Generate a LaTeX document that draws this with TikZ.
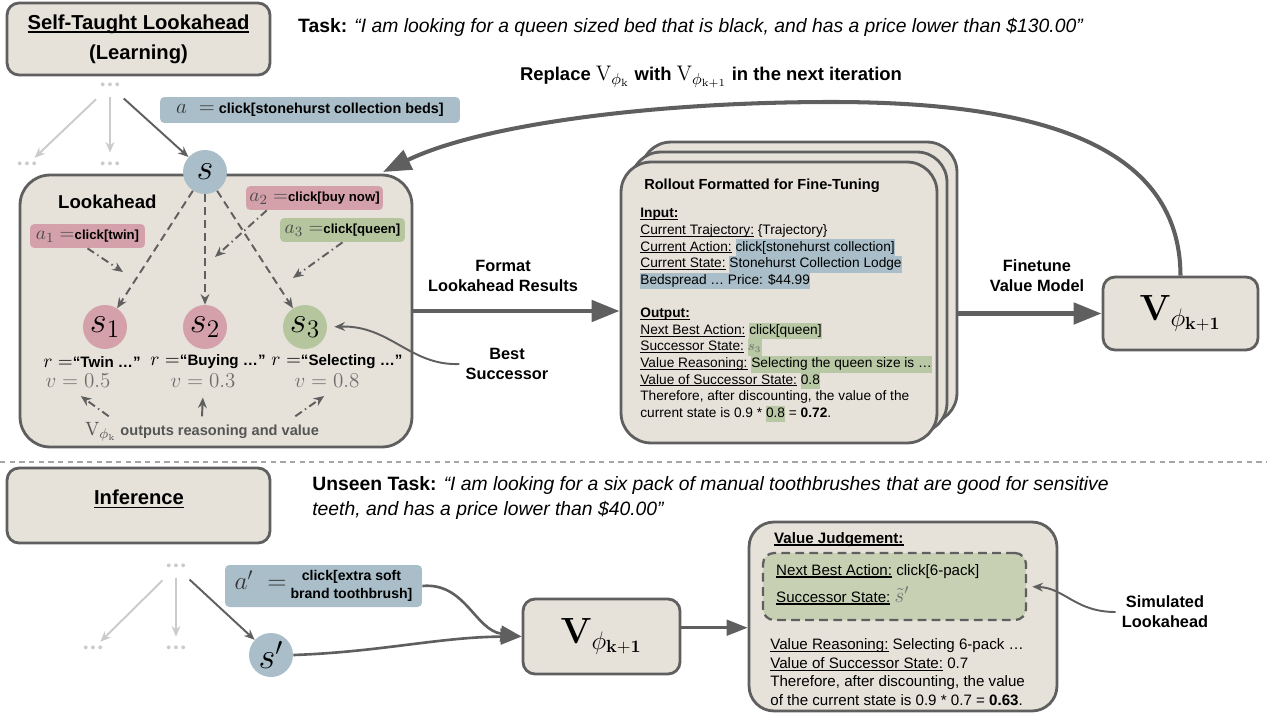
\documentclass[tikz,border=0pt]{standalone}
\usepackage{amsmath}
\usepackage{amssymb}
\usepackage[no-math]{fontspec}
\setmainfont{Liberation Sans}
\usetikzlibrary{arrows.meta,positioning}

\definecolor{boxfill}{HTML}{E6E2DA}
\definecolor{boxline}{HTML}{5F5F5F}
\definecolor{stblue}{HTML}{A9BEC8}
\definecolor{stpink}{HTML}{D4A0AA}
\definecolor{stgreen}{HTML}{B5C69E}
\definecolor{hlgreen}{HTML}{B8C8A4}
\definecolor{simgreen}{HTML}{C8D0B4}
\definecolor{faint}{HTML}{CBCBCB}
\definecolor{txtgray}{HTML}{555555}
\definecolor{mathgray}{HTML}{6E6E6E}

\newcommand{\hlb}[1]{{\setlength{\fboxsep}{0pt}\colorbox{stblue}{\strut #1}}}
\newcommand{\hlg}[1]{{\setlength{\fboxsep}{0pt}\colorbox{hlgreen}{\strut #1}}}
\newsavebox{\ulnbox}
\newcommand{\uln}[1]{\sbox{\ulnbox}{#1}\rlap{\rule[-0.17em]{\wd\ulnbox}{0.075em}}\usebox{\ulnbox}}

\begin{document}
\begin{tikzpicture}[x=0.02cm,y=-0.02cm,
    panel/.style={draw=boxline,line width=1.6pt,fill=boxfill,rounded corners=0.24cm},
    tagbox/.style={rounded corners=2.5pt,inner sep=0pt,font=\bfseries\fontsize{7.5}{9}\selectfont},
    bigarrow/.style={draw=boxline,line width=2.8pt,-{Triangle[length=16pt,width=12pt]}},
    midarrow/.style={draw=boxline,line width=1.5pt,-{Triangle[length=12pt,width=9pt]}},
    thinarrow/.style={draw=boxline,line width=1.1pt,-{Stealth[length=6pt,width=5pt]}},
    ghostarrow/.style={draw=faint,line width=1.1pt,-{Stealth[length=6pt,width=5pt]}},
    dasharrow/.style={thinarrow,dash pattern=on 4.5pt off 2.8pt},
    dotarrow/.style={thinarrow,dash pattern=on 4.5pt off 2.2pt on 0.8pt off 2.2pt},
    dotrow/.style={text=faint,font=\fontsize{8}{8}\selectfont,inner sep=1pt},
    capt/.style={font=\bfseries\fontsize{9.3}{11.3}\selectfont,align=center}]
\useasboundingbox (0,0) rectangle (1267,713);

% ---- learning half ----
\node[panel,minimum width=5.26cm,minimum height=1.44cm,align=center,
      font=\bfseries\fontsize{11.5}{17}\selectfont] (learn) at (138.5,39)
      {\uln{Self-Taught Lookahead}\\(Learning)};
\node[anchor=west,font=\fontsize{11}{13}\selectfont] (task) at (292,27)
      {\textbf{Task:} \textit{``I am looking for a queen sized bed that is black, and has a price lower than \$130.00''}};
\node[font=\bfseries\fontsize{10.5}{12}\selectfont] (replace) at (711,77)
      {Replace {\fontsize{13}{13}\selectfont$\mathrm{V}_{\phi_{\mathrm{k}}}$} with {\fontsize{13}{13}\selectfont$\mathrm{V}_{\phi_{\mathrm{k+1}}}$} in the next iteration};

\node[panel,rounded corners=0.6cm,minimum width=7.84cm,minimum height=5.44cm] (look) at (216,311) {};
\node[anchor=west,font=\bfseries\fontsize{10.6}{12}\selectfont] (looktitle) at (52,202) {Lookahead};

% tree context above s
\node[dotrow] (topdots) at (110,86) {\textbullet\,\textbullet\,\textbullet};
\node[dotrow] (leftdots) at (27,165) {\textbullet\,\textbullet\,\textbullet};
\node[dotrow] (middots) at (110,165) {\textbullet\,\textbullet\,\textbullet};

\node[tagbox,fill=stblue,minimum width=6cm,minimum height=0.52cm,font=\bfseries\fontsize{8.2}{10}\selectfont] (act) at (310,110)
      {{\color{black!80}\fontsize{13}{13}\selectfont$a\;=$}\ click[stonehurst collection beds]};

\begin{scope}[shape=circle,minimum size=0.88cm,inner sep=0pt]
  \tikzstyle{every node}=[font=\fontsize{22}{22}\selectfont]
  \node[fill=stblue] (s) at (205,172) {$s$};
  \foreach \i/\x/\c in {1/105/stpink,2/205/stpink,3/305/stgreen}
    \node[fill=\c] (s_\i) at (\x,327) {$s_\i$};
  \node[fill=stblue] (sprime) at (271,655) {$s'$};
\end{scope}

\draw[ghostarrow,shorten <=6.5pt,shorten >=1.5pt] (topdots) -- (leftdots);
\draw[ghostarrow,shorten <=3pt,shorten >=4pt] (topdots) -- (middots);
\draw[thinarrow,shorten <=6pt] (topdots) -- (s);

\foreach \i in {1,2,3}
  \draw[dasharrow] (s) -- (s_\i);

% action labels
\node[tagbox,fill=stpink,minimum width=2.3cm,minimum height=0.48cm] (a_1) at (87.5,236)
      {{\color{black!70}\fontsize{11}{11}\selectfont$a_1=$}click[twin]};
\node[tagbox,fill=stpink,minimum width=2.74cm,minimum height=0.48cm] (a_2) at (314.5,198)
      {{\color{black!70}\fontsize{11}{11}\selectfont$a_2=$}click[buy now]};
\node[tagbox,fill=stgreen,minimum width=2.5cm,minimum height=0.48cm] (a_3) at (342.5,230)
      {{\color{black!70}\fontsize{11}{11}\selectfont$a_3=$}click[queen]};
\coordinate (t_1) at (123,272);
\coordinate (t_2) at (215,257);
\coordinate (t_3) at (293,278);
\draw[dotarrow] (a_1.south) -- (t_1);
\draw[dotarrow] ([xshift=12pt]a_2.south west) -- (t_2);
\draw[dotarrow] (a_3.south) -- (t_3);

% reasoning and values
\foreach \i/\rx/\rt/\vx/\vt in {1/92/Twin/78/0.5,2/208/Buying/203/0.3,3/337/Selecting/327/0.8}{
  \node[font=\bfseries\fontsize{8.6}{10}\selectfont] (r_\i) at (\rx,362)
        {{\fontsize{11}{11}\selectfont$r=$}``\rt\ …''};
  \node[text=mathgray,font=\fontsize{11.5}{12}\selectfont] (v_\i) at (\vx,381) {$v=\vt$};
}
\node[text=txtgray,font=\bfseries\fontsize{8.3}{10}\selectfont] (vout) at (202,432)
      {{\fontsize{11}{11}\selectfont$\mathrm{V}_{\phi_{\mathrm{k}}}$} outputs reasoning and value};
\draw[dotarrow,shorten >=2pt] ([xshift=17pt]vout.north west) -- (v_1.south);
\draw[thinarrow,shorten >=2pt] (vout.north) -- (v_2.south);
\draw[dotarrow,shorten >=2pt] ([xshift=-17pt]vout.north east) -- (v_3.south);

% rollout stack
\foreach \d/\n in {20/back,10/mid,0/front}
  \node[panel,rounded corners=0.6cm,minimum width=6.32cm,minimum height=5.62cm] (\n) at (779+\d,302.5-\d) {};
\node[font=\bfseries\fontsize{8.3}{10}\selectfont] (rolltitle) at (762,186) {Rollout Formatted for Fine-Tuning};
\node[anchor=north west,align=left,inner sep=0pt,font=\fontsize{7.8}{9.47}\selectfont] (rollbody) at (640,208)
  {\uln{\textbf{Input:}}\\
   \uln{Current Trajectory:} \{Trajectory\}\\
   \uln{Current Action:} \hlb{click[stonehurst collection]}\\
   \uln{Current State:} \hlb{Stonehurst Collection Lodge}\\
   \hlb{Bedspread … Price: \$44.99}\\[9.47pt]
   \uln{\textbf{Output:}}\\
   \uln{Next Best Action:} \hlg{click[queen]}\\
   \uln{Successor State:} \hlg{{\color{mathgray}$s_3$}}\\
   \uln{Value Reasoning:} \hlg{Selecting the queen size is …}\\
   \uln{Value of Successor State:} \hlg{0.8}\\
   Therefore, after discounting, the value of the\\
   current state is 0.9 * \hlg{0.8} = \textbf{0.72}.};

\node[panel,minimum width=3.1cm,minimum height=1.46cm,font=\fontsize{20}{20}\selectfont] (vnext) at (1180.5,313.5)
      {$\mathbf{V}_{\phi_{\mathbf{k+1}}}$};

\node[capt] (fmt) at (503,276) {Format\\Lookahead Results};
\node[capt] (best) at (507,364) {Best\\Successor};
\node[capt] (finetune) at (1037,276) {Finetune\\Value Model};

\draw[bigarrow] (look.east) -- (look.east -| front.west);
\draw[bigarrow] (vnext.west -| back.east) -- (vnext.west);
\coordinate (loopend) at (383,172);
\draw[bigarrow,line width=2.3pt] (vnext.north) .. controls (1180,150) and (1050,102) .. (832,102)
      .. controls (650,102) and (480,125) .. (loopend);
\draw[thinarrow,shorten >=4pt] (best.west) .. controls (410,366) and (390,325) .. (s_3.east);

% ---- divider ----
\draw[gray!70,line width=0.6pt,dash pattern=on 3pt off 2.5pt] (0,462) -- (1267,462);

% ---- inference half ----
\node[panel,minimum width=5.26cm,minimum height=1.5cm] (infer) at (138.5,505.5) {};
\node[font=\bfseries\fontsize{11.5}{14}\selectfont] (infertext) at (139,499) {\uln{Inference}};
\node[anchor=north west,align=left,inner sep=0pt,font=\fontsize{11}{14.2}\selectfont] (unseen) at (312,476)
      {\textbf{Unseen Task:} \textit{``I am looking for a six pack of manual toothbrushes that are good for sensitive}\\
       \textit{teeth, and has a price lower than \$40.00''}};

\node[dotrow] (btop) at (176,567) {\textbullet\,\textbullet\,\textbullet};
\node[dotrow] (bleft) at (93,649) {\textbullet\,\textbullet\,\textbullet};
\node[dotrow] (bmid) at (176,649) {\textbullet\,\textbullet\,\textbullet};
\draw[ghostarrow,shorten <=6.5pt,shorten >=1.5pt] (btop) -- (bleft);
\draw[ghostarrow,shorten <=3pt,shorten >=4pt] (btop) -- (bmid);
\draw[thinarrow,shorten <=6pt] (btop) -- (sprime);

\node[tagbox,fill=stblue,minimum width=3.94cm,minimum height=0.84cm,font=\bfseries\fontsize{8}{10.4}\selectfont] (aprime) at (323.5,586)
      {{\color{black!80}\fontsize{14}{14}\selectfont$a'\;=$}\ \begin{tabular}{@{}c@{}}click[extra soft\\brand toothbrush]\end{tabular}};

\node[panel,minimum width=3.14cm,minimum height=1.5cm,font=\fontsize{20}{20}\selectfont] (vtwo) at (601.5,636.5)
      {$\mathbf{V}_{\phi_{\mathbf{k+1}}}$};

\node[panel,rounded corners=0.5cm,minimum width=6.16cm,minimum height=3.78cm] (judge) at (903,616.5) {};
\node[anchor=base west,font=\bfseries\fontsize{8.6}{10}\selectfont] (judgetitle) at (768,543) {\uln{Value Judgement:}};
\node[panel,dash pattern=on 5pt off 3pt,fill=simgreen,line width=1.3pt,rounded corners=0.22cm,
      minimum width=5.26cm,minimum height=1.34cm] (simbox) at (894.5,586.5) {};
\node[anchor=base west,font=\fontsize{8.6}{10}\selectfont] (nextbest) at (770,575) {\uln{Next Best Action:} click[6-pack]};
\node[anchor=base west,font=\fontsize{8.6}{10}\selectfont] (succ) at (770,602)
      {\uln{Successor State:} {\color{mathgray}\fontsize{12}{12}\selectfont$\tilde{s}'$}};
\node[anchor=north west,align=left,inner sep=0pt,font=\fontsize{8.6}{10.7}\selectfont] (judgebody) at (770,638)
      {\uln{Value Reasoning:} Selecting 6-pack …\\
       \uln{Value of Successor State:} 0.7\\
       Therefore, after discounting, the value\\
       of the current state is 0.9 * 0.7 = \textbf{0.63}.};

\node[capt] (simlbl) at (1165,612) {Simulated\\Lookahead};
\draw[thinarrow,shorten >=3pt] (simlbl.west) .. controls (1075,612) and (1065,588) .. (simbox.east);

\draw[midarrow] (aprime.east) .. controls (465,582) and (475,630) .. (vtwo.west);
\draw[midarrow] (sprime.east) .. controls (380,652) and (440,637) .. (vtwo.west);
\draw[midarrow] ([yshift=5pt]vtwo.east) -- ([yshift=5pt]vtwo.east -| judge.west);
\end{tikzpicture}
\end{document}
